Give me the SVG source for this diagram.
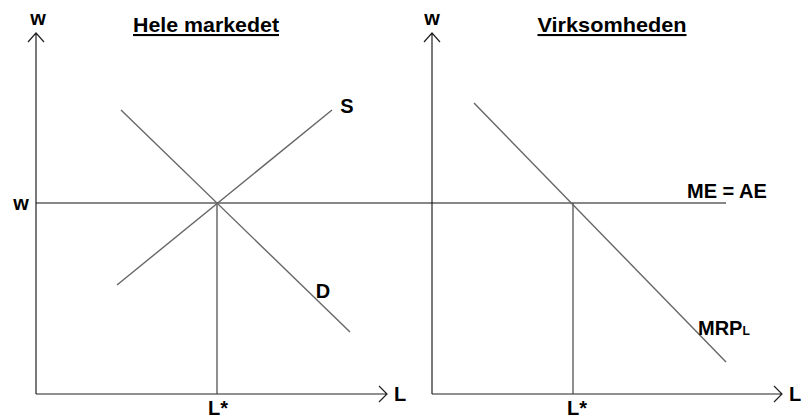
<svg xmlns="http://www.w3.org/2000/svg" width="803" height="419" viewBox="0 0 803 419">
<style>
text{font-family:"Liberation Sans",Arial,sans-serif;font-weight:bold;fill:#000}
.lbl{font-size:20px}
.title{font-size:21px;text-decoration:underline}
.axis{stroke:#222;stroke-width:1.2;fill:none}
.curve{stroke:#666;stroke-width:1.4;fill:none}
.wline{stroke:#111;stroke-width:1.2;fill:none}
.drop{stroke:#444;stroke-width:1.2;fill:none}
</style>
<rect width="803" height="419" fill="#fff"/>
<g id="connectors">
  <g id="left-axes">
    <path class="axis" d="M36,394 V33 M28,42 L36,33 L44,42"/>
    <path class="axis" d="M36,394 H387 M379,386 L387,394 L379,402"/>
  </g>
  <g id="right-axes">
    <path class="axis" d="M432,394 V33 M424,42 L432,33 L440,42"/>
    <path class="axis" d="M432,394 H782 M774,386 L782,394 L774,402"/>
  </g>
  <line id="wage-line" class="wline" x1="36" y1="203" x2="726" y2="203"/>
  <line id="drop-left" class="drop" x1="217" y1="203" x2="217" y2="394"/>
  <line id="drop-right" class="drop" x1="573" y1="203" x2="573" y2="394"/>
  <line id="supply" class="curve" x1="117" y1="285" x2="332" y2="110"/>
  <line id="demand" class="curve" x1="121" y1="110" x2="350" y2="332"/>
  <line id="mrp" class="curve" x1="474" y1="103" x2="726" y2="362"/>
</g>
<g id="title-left"><text class="title" x="206" y="32" text-anchor="middle" textLength="146" lengthAdjust="spacingAndGlyphs">Hele markedet</text></g>
<g id="title-right"><text class="title" x="612" y="32" text-anchor="middle" textLength="149" lengthAdjust="spacingAndGlyphs">Virksomheden</text></g>
<g id="label-w-top-left"><text class="lbl" x="38" y="25" text-anchor="middle">w</text></g>
<g id="label-w-top-right"><text class="lbl" x="432" y="25" text-anchor="middle">w</text></g>
<g id="label-w-left"><text class="lbl" x="21" y="210" text-anchor="middle">w</text></g>
<g id="label-S"><text class="lbl" x="347" y="113" text-anchor="middle">S</text></g>
<g id="label-D"><text class="lbl" x="323" y="298" text-anchor="middle">D</text></g>
<g id="label-L-left"><text class="lbl" x="400" y="401" text-anchor="middle">L</text></g>
<g id="label-L-right"><text class="lbl" x="795" y="401" text-anchor="middle">L</text></g>
<g id="label-Lstar-left"><text class="lbl" x="218" y="415" text-anchor="middle">L*</text></g>
<g id="label-Lstar-right"><text class="lbl" x="577" y="415" text-anchor="middle">L*</text></g>
<g id="label-ME-AE"><text class="lbl" x="687" y="198">ME = AE</text></g>
<g id="label-MRP"><text class="lbl" x="698" y="335">MRP<tspan font-size="12">L</tspan></text></g>
</svg>
